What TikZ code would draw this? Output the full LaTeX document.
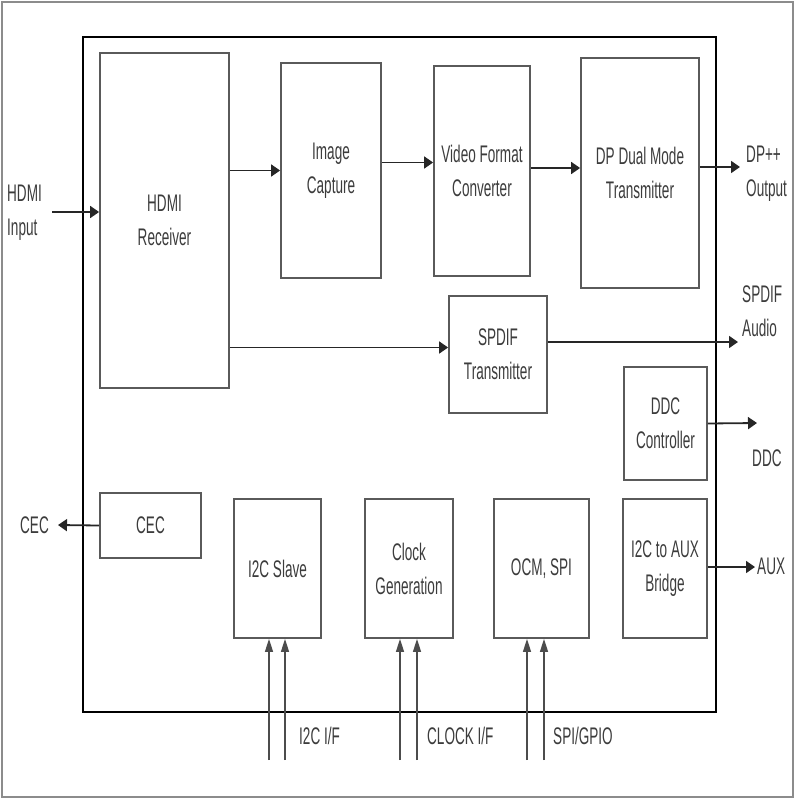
\documentclass[tikz,border=0pt]{standalone}
\usepackage{fontspec}
\setmainfont{Liberation Sans}[FakeStretch=0.565]
\usetikzlibrary{arrows.meta}
\definecolor{boxgray}{HTML}{5A5A5A}
\definecolor{txtgray}{HTML}{3C3C3C}
\newcommand{\blkfont}{\fontsize{24}{34}\selectfont}

\begin{document}
\begin{tikzpicture}[x=1pt, y=-1pt,
  blk/.style={draw=boxgray, line width=1.8pt, inner sep=0pt, align=center, font=\blkfont, text=txtgray},
  lbl/.style={inner sep=0pt, align=left, font=\blkfont, text=txtgray},
  sig/.style={draw=black!85, line width=1.8pt, -{Triangle[length=9pt,width=12pt]}},
  bus/.style={draw=black!70, line width=1.3pt, -{Triangle[length=13pt,width=8pt]}}]
\useasboundingbox (0,0) rectangle (800,800);
\draw[black!45, line width=1.5pt] (2,2) rectangle (793,797);
\draw[black, line width=2.6pt] (83,37) rectangle (716,712);

\node[blk, minimum width=129pt, minimum height=335pt] (hdmirx) at (164.5,220.5) {HDMI\\Receiver};
\node[blk, minimum width=100pt, minimum height=215pt] (ic) at (331,170.5) {Image\\Capture};
\node[blk, minimum width=96pt, minimum height=210pt] (vfc) at (482,171) {Video Format\\Converter};
\node[blk, minimum width=118pt, minimum height=230pt] (dp) at (640,173) {DP Dual Mode\\Transmitter};
\node[blk, minimum width=98pt, minimum height=117pt] (spdif) at (498,354.5) {SPDIF\\Transmitter};
\node[blk, minimum width=83pt, minimum height=113pt] (ddc) at (665.5,423.5) {DDC\\Controller};
\node[blk, minimum width=101pt, minimum height=65pt] (cec) at (150.5,525.5) {CEC};
\node[blk, minimum width=87pt, minimum height=139pt] (i2c) at (277.5,568.5) {I2C Slave};
\node[blk, minimum width=88pt, minimum height=139pt] (clk) at (409,568.5) {Clock\\Generation};
\node[blk, minimum width=95pt, minimum height=139pt] (ocm) at (541.5,568.5) {OCM, SPI};
\node[blk, minimum width=84pt, minimum height=139pt] (aux) at (665,568.5) {I2C to AUX\\Bridge};

\node[lbl, anchor=west] (hdmiin) at (7,213) {HDMI\\Input};
\node[lbl, anchor=west] (dpout) at (746,174) {DP++\\Output};
\node[lbl, anchor=west] (audio) at (742,311) {SPDIF\\Audio};
\node[lbl, anchor=west] (ddclbl) at (752,458) {DDC};
\node[lbl, anchor=west] (auxlbl) at (757,566) {AUX};
\node[lbl, anchor=east] (ceclbl) at (49,525) {CEC};
\node[lbl, anchor=west] (i2clbl) at (299,736) {I2C I/F};
\node[lbl, anchor=west] (clklbl) at (427,736) {CLOCK I/F};
\node[lbl, anchor=west] (spilbl) at (553,736) {SPI/GPIO};

\coordinate (hin) at (52,212);
\coordinate (dpend) at (740,167);
\coordinate (audend) at (738,342);
\coordinate (ddcend) at (757,423);
\coordinate (auxend) at (755,567);
\coordinate (cecend) at (58,525);
\coordinate (i2ca) at (269,760);
\coordinate (i2cb) at (285,760);
\coordinate (clka) at (400,760);
\coordinate (clkb) at (417,760);
\coordinate (ocma) at (527,760);
\coordinate (ocmb) at (544,760);

\draw[sig] (hin) -- (hin -| hdmirx.west);
\draw[sig] (hdmirx.east |- ic.west) -- (ic.west);
\draw[sig] ([yshift=8pt]ic.east) -- ([yshift=8pt]ic.east -| vfc.west);
\draw[sig] ([yshift=3pt]vfc.east) -- ([yshift=3pt]vfc.east -| dp.west);
\draw[sig] (dpend -| dp.east) -- (dpend);
\draw[sig] ([yshift=7pt]spdif.west -| hdmirx.east) -- ([yshift=7pt]spdif.west);
\draw[sig] (audend -| spdif.east) -- (audend);
\draw[sig] (ddc.east) -- (ddcend);
\draw[sig] (auxend -| aux.east) -- (auxend);
\draw[sig] (cec.west) -- (cecend);
\foreach \c/\b in {i2ca/i2c, i2cb/i2c, clka/clk, clkb/clk, ocma/ocm, ocmb/ocm}
  \draw[bus] (\c) -- (\c |- \b.south);
\end{tikzpicture}
\end{document}
